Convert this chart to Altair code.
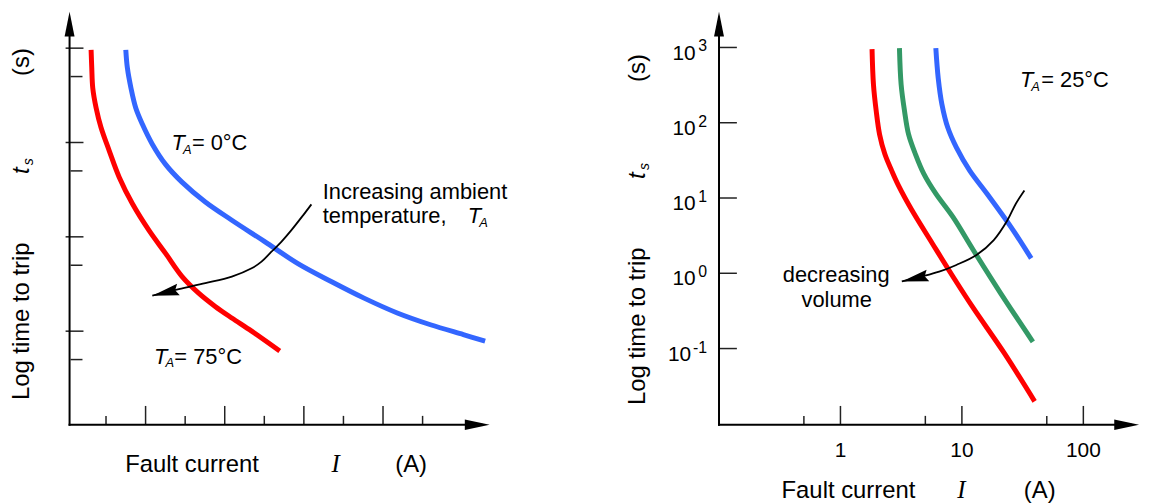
import altair as alt
import pandas as pd

SANS = "Liberation Sans"
SERIF = "Liberation Serif"
RED, GREEN, BLUE = "#FF0000", "#339966", "#3366FF"
INK = "#000000"
TICK = "#222222"

# ---------------- left panel (current: linear units, time: log seconds) -------------
left_blue_I = [1.50, 1.54, 1.63, 1.75, 1.92, 2.17, 2.50, 2.92, 3.51, 4.18, 5.01, 5.85, 6.69, 7.52, 8.36, 9.20, 10.03, 10.58]
left_blue_t = [961, 617, 379, 234, 156, 96, 59, 38, 23.4, 15, 8.9, 5.2, 3.36, 2.24, 1.56, 1.17, 0.92, 0.785]
left_red_I = [0.623, 0.640, 0.665, 0.749, 0.874, 1.082, 1.333, 1.668, 2.086, 2.505, 2.923, 3.341, 3.759, 4.178, 4.68, 5.39]
left_red_t = [961, 617, 379, 234, 144, 81.7, 42.9, 22.4, 11.7, 6.68, 3.79, 2.53, 1.83, 1.38, 1.0, 0.616]
left_arrow_I = [6.19, 5.98, 5.68, 5.43, 5.18, 4.93, 4.68, 4.18, 3.51, 2.84, 2.17]
left_arrow_t = [22.1, 16.9, 11.7, 8.85, 6.95, 5.46, 4.64, 3.79, 3.23, 2.79, 2.38]
left_y_major = [1000, 100, 10, 1]
left_y_minor = [500, 50, 5, 0.5]
left_x_tall = [2, 4, 6, 8]
left_x_short = [1, 3, 5, 7, 9]

# ---------------- right panel (log-log) ----------------
right_red_I = [1.82, 1.87, 1.97, 2.10, 2.32, 2.64, 3.0, 3.88, 5.71, 8.43, 12.4, 22.2, 39.7]
right_red_t = [951, 321, 143, 70, 38.4, 23.1, 14.7, 6.86, 2.49, 0.906, 0.346, 0.0881, 0.0199]
right_green_I = [3.06, 3.16, 3.37, 3.64, 4.14, 4.86, 6.10, 8.43, 12.4, 20.8, 38.4]
right_green_t = [980, 321, 143, 70, 38.4, 20.9, 11.4, 5.6, 2.04, 0.546, 0.123]
right_blue_I = [6.10, 6.38, 6.85, 7.65, 9.0, 11.6, 16.1, 25.3, 37.2]
right_blue_t = [980, 394, 175, 86.3, 47, 23.1, 11.4, 4.14, 1.58]
right_arrow_I = [32.7, 27.8, 23.7, 18.3, 13.2, 9.0, 6.5, 3.2]
right_arrow_t = [12.6, 8.4, 5.06, 2.76, 1.75, 1.29, 1.05, 0.778]
right_y_major = [1000, 100, 10, 1, 0.1]
right_y_exp = ["3", "2", "1", "0", "-1"]
right_x_tall = [1, 10, 100]
right_x_labels = ["1", "10", "100"]
right_x_short = [0.5, 5, 50]

# ---------------- scales ----------------
xL = alt.Scale(type="linear", domain=[0, 10], range=[58.85, 457.35], nice=False, zero=False)
yL = alt.Scale(type="log", domain=[0.1, 1000], range=[418.7, 38.7], nice=False)
xR = alt.Scale(type="log", domain=[0.1, 100], range=[716, 1082.9], nice=False)
yR = alt.Scale(type="log", domain=[0.01, 1000], range=[417, 38], nice=False)

ARROW_HEAD = "M 0 0 L 2 -0.44 L 1.75 0 L 2 0.44 Z"
UP_HEAD = "M 0 0 L 0.4 2 L -0.4 2 Z"
RIGHT_HEAD = "M 0 0 L -2 -0.42 L -2 0.42 Z"

TITLE = 24
NOTE = 22
SUB = 13


def curve(I, t, xs, ys, color, width):
    df = pd.DataFrame({"I": I, "t": t, "i": list(range(len(I)))})
    return alt.Chart(df).mark_line(color=color, strokeWidth=width, interpolate="catmull-rom").encode(
        x=alt.X("I:Q", scale=xs, axis=None),
        y=alt.Y("t:Q", scale=ys, axis=None),
        order=alt.Order("i:Q"),
    )


def head(I, t, xs, ys):
    df = pd.DataFrame({"I": [I[-1]], "t": [t[-1]]})
    return alt.Chart(df).mark_point(shape=ARROW_HEAD, size=729, filled=True, color=INK, opacity=1, angle=347).encode(
        x=alt.X("I:Q", scale=xs, axis=None),
        y=alt.Y("t:Q", scale=ys, axis=None),
    )


def yticks(vals, ys, x1, x2):
    return alt.Chart(pd.DataFrame({"v": vals})).mark_rule(color=TICK, strokeWidth=1.5).encode(
        y=alt.Y("v:Q", scale=ys, axis=None), x=alt.value(x1), x2=alt.value(x2))


def xticks(vals, xs, y1, y2):
    return alt.Chart(pd.DataFrame({"v": vals})).mark_rule(color=TICK, strokeWidth=1.5).encode(
        x=alt.X("v:Q", scale=xs, axis=None), y=alt.value(y1), y2=alt.value(y2))


def vline(x, y1, y2):
    return alt.Chart(alt.Data(values=[{}])).mark_rule(color=INK, strokeWidth=2).encode(
        x=alt.value(x), y=alt.value(y1), y2=alt.value(y2))


def hline(y, x1, x2):
    return alt.Chart(alt.Data(values=[{}])).mark_rule(color=INK, strokeWidth=2).encode(
        y=alt.value(y), x=alt.value(x1), x2=alt.value(x2))


def axhead(x, y, shape):
    return alt.Chart(alt.Data(values=[{}])).mark_point(shape=shape, size=625, filled=True, color=INK, opacity=1).encode(
        x=alt.value(x), y=alt.value(y))


def label(s, x, y, size=NOTE, style="normal", align="left", angle=0, font=SANS):
    return alt.Chart(alt.Data(values=[{"s": s}])).mark_text(
        align=align, baseline="alphabetic", fontSize=size, fontStyle=style, font=font,
        angle=angle, color=INK).encode(x=alt.value(x), y=alt.value(y), text="s:N")


def t_sub(x0, y, rest, rest_dx):
    return [
        label("T", x0, y, NOTE, style="italic"),
        label("A", x0 + 11.5, y + 3.5, SUB, style="italic"),
        label(rest, x0 + rest_dx, y, NOTE),
    ]


left = alt.layer(
    yticks(left_y_major, yL, 58, 76),
    yticks(left_y_minor, yL, 63, 75),
    xticks(left_x_tall, xL, 399, 418),
    xticks(left_x_short, xL, 409, 418),
    curve(left_blue_I, left_blue_t, xL, yL, BLUE, 5),
    curve(left_red_I, left_red_t, xL, yL, RED, 5),
    curve(left_arrow_I, left_arrow_t, xL, yL, INK, 1.8),
    head(left_arrow_I, left_arrow_t, xL, yL),
)

ylab = pd.DataFrame({"v": right_y_major, "e": right_y_exp})
ten_pos = alt.Chart(ylab).transform_filter("length(datum.e) == 1").mark_text(
    align="right", baseline="alphabetic", fontSize=21, font=SANS, color=INK, dy=12.3, text="10"
).encode(y=alt.Y("v:Q", scale=yR, axis=None), x=alt.value(692.5))
ten_neg = alt.Chart(ylab).transform_filter("length(datum.e) > 1").mark_text(
    align="right", baseline="alphabetic", fontSize=21, font=SANS, color=INK, dy=12.3, text="10"
).encode(y=alt.Y("v:Q", scale=yR, axis=None), x=alt.value(688))
sup = alt.Chart(ylab).mark_text(
    align="right", baseline="alphabetic", fontSize=16, font=SANS, color=INK, dy=4
).encode(y=alt.Y("v:Q", scale=yR, axis=None), x=alt.value(704), text="e:N")
xlab = alt.Chart(pd.DataFrame({"v": right_x_tall, "s": right_x_labels})).mark_text(
    align="center", baseline="alphabetic", fontSize=21, font=SANS, color=INK
).encode(x=alt.X("v:Q", scale=xR, axis=None), y=alt.value(450), text="s:N")

right = alt.layer(
    yticks(right_y_major, yR, 716, 734),
    xticks(right_x_tall, xR, 399, 418),
    xticks(right_x_short, xR, 409, 418),
    ten_pos, ten_neg, sup, xlab,
    curve(right_red_I, right_red_t, xR, yR, RED, 5),
    curve(right_green_I, right_green_t, xR, yR, GREEN, 5),
    curve(right_blue_I, right_blue_t, xR, yR, BLUE, 5),
    curve(right_arrow_I, right_arrow_t, xR, yR, INK, 1.8),
    head(right_arrow_I, right_arrow_t, xR, yR),
)

decor = [
    # axes
    vline(62, 20, 419), hline(418, 61, 478), axhead(62, 2, UP_HEAD), axhead(485, 418, RIGHT_HEAD),
    vline(716, 20, 419), hline(418, 715, 1132), axhead(716, 2, UP_HEAD), axhead(1139, 418, RIGHT_HEAD),
    # left axis titles
    label("(s)", 21, 52.7, TITLE, align="center", angle=270),
    label("t", 21, 162, TITLE, style="italic", align="center", angle=270),
    label("s", 25.5, 153, 14, style="italic", align="center", angle=270),
    label("Log time to trip", 21, 313.7, TITLE, align="center", angle=270),
    label("Fault current", 118, 466, TITLE),
    label("I", 330, 466, 25, style="italic", align="center", font=SERIF),
    label("(A)", 390, 466, TITLE),
    # left annotations
    *t_sub(164.7, 141.3, "= 0°C", 20.5),
    *t_sub(147, 356.3, "= 75°C", 20.5),
    label("Increasing ambient", 317, 191, NOTE),
    label("temperature,", 317, 215, NOTE),
    label("T", 463, 215, NOTE, style="italic"),
    label("A", 474.5, 218.5, SUB, style="italic"),
    # right axis titles
    label("(s)", 641, 58.7, TITLE, align="center", angle=270),
    label("t", 641, 167, TITLE, style="italic", align="center", angle=270),
    label("s", 645.5, 158, 14, style="italic", align="center", angle=270),
    label("Log time to trip", 641, 318.7, TITLE, align="center", angle=270),
    label("Fault current", 779, 492, TITLE),
    label("I", 960, 492, 25, style="italic", align="center", font=SERIF),
    label("(A)", 1023, 492, TITLE),
    # right annotations
    *t_sub(1019, 78, "= 25°C", 21.5),
    label("decreasing", 834, 274.5, NOTE, align="center"),
    label("volume", 834.5, 299, NOTE, align="center"),
]

chart = alt.layer(left, right, *decor).resolve_scale(x="independent", y="independent").properties(
    width=1147, height=496, autosize=alt.AutoSizeParams(type="none"), padding=0
).configure_view(stroke=None)

chart.save("out.html", embed_options={"renderer": "svg", "actions": False})
